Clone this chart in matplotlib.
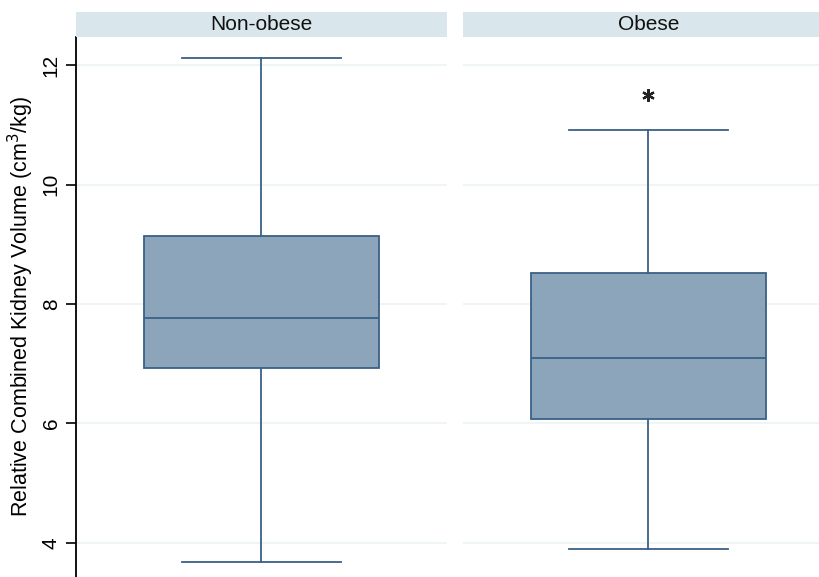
import matplotlib
matplotlib.use('Agg')
import matplotlib.pyplot as plt

plt.rcParams['font.family'] = ['Liberation Sans', 'DejaVu Sans']

# five-number summaries
groups = ['Non-obese', 'Obese']
whislo = [3.68, 3.90]
q1 = [6.93, 6.08]
med = [7.77, 7.10]
q3 = [9.14, 8.52]
whishi = [12.12, 10.91]
fliers = [[], [11.50]]
yticks = [4, 6, 8, 10, 12]

W, H = 820, 577
fig = plt.figure(figsize=(W / 100, H / 100), dpi=100)

box_fill = '#8ca5ba'
line_c = '#3a6187'
strip_c = '#d9e6ec'
grid_c = '#ecf2f4'

panel_left = [76, 463]
panel_w = 371
top = 37

for i, g in enumerate(groups):
    ax = fig.add_axes([panel_left[i] / W, 0, panel_w / W, (H - top) / H])
    stats = [dict(med=med[i], q1=q1[i], q3=q3[i], whislo=whislo[i],
                  whishi=whishi[i], fliers=fliers[i])]
    ax.bxp(stats, positions=[0.5], widths=0.636, capwidths=0.426,
           patch_artist=True, manage_ticks=False,
           boxprops=dict(facecolor=box_fill, edgecolor=line_c, linewidth=1.3),
           medianprops=dict(color=line_c, linewidth=1.3),
           whiskerprops=dict(color=line_c, linewidth=1.3),
           capprops=dict(color=line_c, linewidth=1.3),
           flierprops=dict(marker=(6, 2, 0), markersize=9, markeredgecolor='#222222',
                           markeredgewidth=1.6, linestyle='none'))
    ax.set_xlim(0, 1)
    ax.set_ylim(3.43, 12.47)
    ax.set_yticks(yticks)
    ax.grid(axis='y', color=grid_c, linewidth=1.2)
    ax.set_axisbelow(True)
    ax.set_xticks([])
    for s in ['top', 'right', 'bottom']:
        ax.spines[s].set_visible(False)
    if i == 0:
        ax.spines['left'].set_linewidth(1.3)
        ax.tick_params(axis='y', length=7, width=1.2, labelsize=15, pad=4)
        for lab in ax.get_yticklabels():
            lab.set_rotation(90)
            lab.set_va('center')
        ax.set_ylabel('Relative Combined Kidney Volume (cm$^3$/kg)', fontsize=15.5, labelpad=4)
    else:
        ax.spines['left'].set_visible(False)
        ax.tick_params(axis='y', length=0, labelleft=False)

    # panel header strip
    sx = fig.add_axes([panel_left[i] / W, (H - top) / H, panel_w / W, 25 / H])
    sx.set_facecolor(strip_c)
    sx.set_xticks([])
    sx.set_yticks([])
    for s in sx.spines.values():
        s.set_visible(False)
    sx.text(0.5, 0.5, g, ha='center', va='center', fontsize=15, color='#111111',
            transform=sx.transAxes)

fig.savefig('out.png', dpi=100)
